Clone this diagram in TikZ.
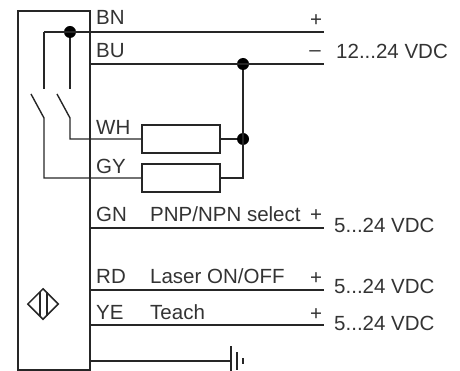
\documentclass[tikz,border=0pt]{standalone}
\usepackage{tikz}
\usepackage{xcolor}
\usepackage{fontspec}
\setmainfont{Liberation Sans}
\usetikzlibrary{positioning,shapes.geometric}
\tikzset{
    wire/.style={line width=1.4pt, draw=black!85},
    dot/.style={circle, fill=black, inner sep=0pt, minimum size=12pt},
    resistor/.style={rectangle, draw=black!85, line width=1.4pt, minimum width=78pt, minimum height=28pt, inner sep=0pt},
    tag/.style={anchor=base west, inner sep=0pt, font=\fontsize{20.5}{20.5}\selectfont, text=black!80},
    sign/.style={anchor=base, inner sep=0pt, font=\fontsize{20.5}{20.5}\selectfont, text=black!80}
}

\begin{document}
\begin{tikzpicture}[x=1pt, y=-1pt]
    \useasboundingbox (0,0) rectangle (460,371);
    \draw[wire] (18,370) -- (18,11) -- (90,11) -- (90,370) -- cycle;

    % wire ends
    \coordinate (bnL) at (44,32);
    \coordinate (bnR) at (324,32);
    \coordinate (buL) at (90,64);
    \coordinate (buR) at (324,64);
    \coordinate (gnL) at (90,228);
    \coordinate (gnR) at (324,228);
    \coordinate (rdL) at (90,290);
    \coordinate (rdR) at (324,290);
    \coordinate (yeL) at (90,325);
    \coordinate (yeR) at (324,325);
    \coordinate (gndL) at (90,361);
    \coordinate (gndR) at (231,361);

    \node[resistor] (resWH) at (181,139) {};
    \node[resistor] (resGY) at (181,178) {};
    \node[dot] (dotBN) at (70,32) {};
    \node[dot] (dotBU) at (243,64) {};
    \node[dot] (dotWH) at (243,139) {};
    \coordinate (gyEnd) at (243,178);

    \draw[wire] (bnL) -- (bnR);
    \draw[wire] (buL) -- (buR);
    \draw[wire] (gnL) -- (gnR);
    \draw[wire] (rdL) -- (rdR);
    \draw[wire] (yeL) -- (yeR);
    \draw[wire] (gndL) -- (gndR);

    % switches
    \coordinate (swA) at (44,89);
    \coordinate (swB) at (70,89);
    \draw[wire] (bnL) -- (swA);
    \draw[wire] (dotBN) -- (swB);
    \draw[wire] (31,94) -- (44,118) -- (44,178) -- (resGY.west);
    \draw[wire] (57,94) -- (70,118) -- (70,139) -- (resWH.west);
    \draw[wire] (resWH.east) -- (dotWH);
    \draw[wire] (resGY.east) -- (gyEnd) -- (dotBU);

    % ground
    \draw[wire] (231,346) -- (231,371);
    \draw[wire] (237,352) -- (237,370);
    \draw[wire] (243,358) -- (243,364);

    % sensor symbol
    \node[diamond, draw=black!85, line width=1.5pt, minimum width=31pt, minimum height=31pt, inner sep=0pt] (sensor) at (43,304) {};
    \draw[wire] (40,292) -- (40,316);
    \draw[wire] (47,292) -- (47,316);

    % labels
    \node[tag] (bn) at (96,25) {BN};
    \node[tag] (bu) at (96,58) {BU};
    \node[tag] (wh) at (96,135) {WH};
    \node[tag] (gy) at (96,174) {GY};
    \node[tag] (gn) at (96,222) {GN};
    \node[tag] (rd) at (96,283) {RD};
    \node[tag] (ye) at (96,319) {YE};
    \node[tag] (pnp) at (150,222) {PNP/NPN select};
    \node[tag] (laser) at (150,283) {Laser ON/OFF};
    \node[tag] (teach) at (150,319) {Teach};
    \node[sign] (plusA) at (316,27) {+};
    \node[sign] (minusA) at (315,57) {–};
    \node[sign] (plusB) at (316,222) {+};
    \node[sign] (plusC) at (316,284) {+};
    \node[sign] (plusD) at (316,320) {+};
    \node[tag] (volA) at (336,59) {12...24 VDC};
    \node[tag] (volB) at (334,233) {5...24 VDC};
    \node[tag] (volC) at (334,293) {5...24 VDC};
    \node[tag] (volD) at (334,330) {5...24 VDC};
\end{tikzpicture}
\end{document}
